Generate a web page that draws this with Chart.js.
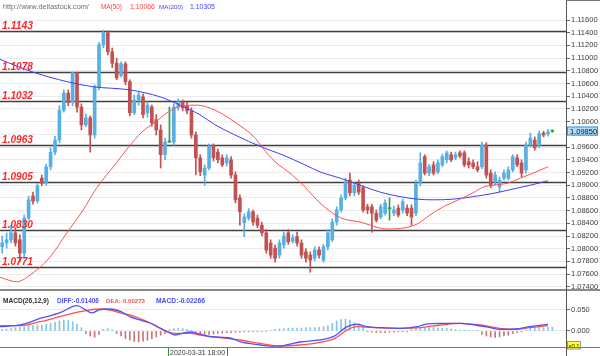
<!DOCTYPE html>
<html><head><meta charset="utf-8">
<script src="https://cdn.jsdelivr.net/npm/chart.js@4.4.0/dist/chart.umd.min.js"></script>
<style>
html,body{margin:0;padding:0;background:#fff;width:600px;height:356px;overflow:hidden;}
#main{position:absolute;left:0;top:0;width:600px;height:289px;}
#macd{position:absolute;left:0;top:291px;width:600px;height:65px;}
.ln{position:absolute;}
</style></head><body>
<div id="main"><canvas id="c1" width="600" height="289"></canvas></div>
<div id="macd"><canvas id="c2" width="600" height="65"></canvas></div>
<div class="ln" style="left:0;top:289px;width:600px;height:2px;background:#8a8a8a"></div>
<div class="ln" style="left:0;top:347px;width:600px;height:1px;background:#7a7a7a"></div>
<div class="ln" style="left:566px;top:289px;width:1px;height:67px;background:#555"></div>
<div class="ln" style="left:566px;top:0;width:34px;height:1px;background:#777"></div>
<script>
// ---------- DATA ----------
const priceTicks = [1.074,1.076,1.078,1.080,1.082,1.084,1.086,1.088,1.090,1.092,1.094,1.096,1.098,1.100,1.102,1.104,1.106,1.108,1.110,1.112,1.114,1.116];
const macdTicks = [0, 0.05];
const levels = [1.1143,1.1078,1.1032,1.0963,1.0905,1.0830,1.0771];

const opens = [1.0803,1.0809,1.0814,1.0825,1.0814,1.0793,1.0848,1.0883,1.0875,1.0911,
1.0903,1.0929,1.0952,1.0971,1.1018,1.1045,1.1030,1.1077,1.1023,1.0995,
1.1006,1.0979,1.1055,1.1121,1.1140,1.1110,1.1092,1.1073,1.1091,1.1063,
1.1014,1.1034,1.1039,1.1014,1.1023,1.1003,1.0987,1.0948,1.0968,1.0968,
1.1023,1.1031,1.1025,1.1017,1.0979,1.0943,1.0916,1.0927,1.0962,1.0952,
1.0943,1.0935,1.0940,1.0916,1.0880,1.0841,1.0848,1.0858,1.0848,1.0837,
1.0825,1.0809,1.0801,1.0790,1.0806,1.0825,1.0812,1.0819,1.0809,1.0795,
1.0790,1.0785,1.0798,1.0782,1.0803,1.0814,1.0842,1.0861,1.0880,1.0908,
1.0888,1.0903,1.0896,1.0866,1.0866,1.0856,1.0850,1.0856,1.0863,1.0856,
1.0864,1.0861,1.0864,1.0864,1.0856,1.0903,1.0945,1.0919,1.0932,1.0921,
1.0932,1.0940,1.0948,1.0943,1.0951,1.0951,1.0937,1.0935,1.0929,1.0929,
1.0963,1.0919,1.0905,1.0897,1.0911,1.0911,1.0924,1.0943,1.0935,1.0924,
1.0963,1.0971,1.0963,1.0982,1.0981,1.0985];
const highs = [1.0820,1.0825,1.0837,1.0833,1.0822,1.0853,1.0883,1.0889,1.0903,1.0916,
1.0933,1.0959,1.0977,1.1025,1.1050,1.1050,1.1078,1.1078,1.1028,1.1012,
1.1009,1.1058,1.1125,1.1144,1.1143,1.1116,1.1100,1.1094,1.1094,1.1066,
1.1042,1.1047,1.1044,1.1031,1.1026,1.1011,1.0995,1.0974,1.1023,1.1028,
1.1036,1.1034,1.1031,1.1022,1.0984,1.0948,1.0932,1.0965,1.0965,1.0957,
1.0948,1.0948,1.0945,1.0921,1.0885,1.0855,1.0863,1.0861,1.0853,1.0842,
1.0830,1.0814,1.0806,1.0814,1.0826,1.0830,1.0822,1.0826,1.0814,1.0800,
1.0795,1.0803,1.0803,1.0807,1.0830,1.0847,1.0866,1.0885,1.0911,1.0919,
1.0905,1.0908,1.0899,1.0870,1.0870,1.0861,1.0870,1.0877,1.0880,1.0867,
1.0869,1.0878,1.0869,1.0869,1.0908,1.0951,1.0948,1.0933,1.0937,1.0940,
1.0949,1.0954,1.0952,1.0952,1.0954,1.0954,1.0943,1.0940,1.0937,1.0968,
1.0967,1.0924,1.0921,1.0913,1.0924,1.0929,1.0948,1.0948,1.0940,1.0968,
1.0982,1.0976,1.0985,1.0985,1.0988,1.0987];
const lows = [1.0793,1.0801,1.0809,1.0804,1.0779,1.0785,1.0845,1.0870,1.0872,1.0899,
1.0900,1.0924,1.0948,1.0967,1.1015,1.1025,1.1025,1.1015,1.0987,1.0992,
1.0952,1.0974,1.1050,1.1116,1.1105,1.1085,1.1066,1.1070,1.1058,1.1009,
1.1011,1.1026,1.1006,1.1007,1.0993,1.0979,1.0927,1.0940,1.0967,1.0963,
1.1018,1.1017,1.1012,1.0974,1.0916,1.0915,1.0900,1.0924,1.0938,1.0935,
1.0929,1.0930,1.0911,1.0872,1.0837,1.0819,1.0845,1.0837,1.0833,1.0820,
1.0793,1.0785,1.0779,1.0785,1.0801,1.0807,1.0809,1.0804,1.0785,1.0779,
1.0763,1.0781,1.0785,1.0779,1.0798,1.0811,1.0837,1.0858,1.0877,1.0883,
1.0883,1.0885,1.0858,1.0855,1.0826,1.0842,1.0847,1.0853,1.0845,1.0852,
1.0850,1.0856,1.0852,1.0837,1.0852,1.0899,1.0916,1.0915,1.0916,1.0918,
1.0929,1.0935,1.0937,1.0940,1.0943,1.0929,1.0927,1.0926,1.0921,1.0926,
1.0911,1.0896,1.0900,1.0889,1.0908,1.0908,1.0921,1.0929,1.0913,1.0919,
1.0960,1.0955,1.0959,1.0976,1.0977,1.0983];
const closes = [1.0809,1.0814,1.0825,1.0809,1.0793,1.0848,1.0877,1.0875,1.0899,1.0903,
1.0929,1.0952,1.0971,1.1018,1.1045,1.1030,1.1077,1.1023,1.0995,1.1006,
1.0979,1.1055,1.1121,1.1140,1.1110,1.1092,1.1069,1.1091,1.1063,1.1014,
1.1034,1.1042,1.1011,1.1026,1.0998,1.0987,1.0948,1.0968,1.0968,1.1023,
1.1031,1.1022,1.1017,1.0979,1.0943,1.0921,1.0927,1.0962,1.0943,1.0940,
1.0932,1.0943,1.0916,1.0877,1.0858,1.0850,1.0858,1.0842,1.0837,1.0825,
1.0798,1.0790,1.0785,1.0809,1.0820,1.0811,1.0817,1.0809,1.0790,1.0785,
1.0782,1.0798,1.0790,1.0803,1.0825,1.0842,1.0861,1.0880,1.0905,1.0888,
1.0900,1.0889,1.0861,1.0861,1.0856,1.0845,1.0866,1.0872,1.0863,1.0861,
1.0853,1.0874,1.0856,1.0850,1.0903,1.0935,1.0919,1.0929,1.0919,1.0935,
1.0945,1.0951,1.0940,1.0948,1.0946,1.0932,1.0932,1.0929,1.0924,1.0963,
1.0916,1.0900,1.0916,1.0908,1.0919,1.0924,1.0945,1.0932,1.0919,1.0963,
1.0974,1.0959,1.0981,1.0979,1.0984,1.0985];

// moving averages: [candle index, value]
const ma50 = [[-0.5,1.0755],[3.3,1.0748],[7,1.0762],[10.9,1.0787],[14.7,1.0825],[18.4,1.0861],[21.5,1.0896],[25.6,1.0932],[28.6,1.0959],[31.8,1.0984],[34.7,1.0999],[37.7,1.1015],[40.9,1.1025],[44.3,1.1026],[48.4,1.1018],[52.9,1.0999],[57.5,1.0974],[59,1.0960],[62,1.0937],[65.9,1.0916],[68.8,1.0897],[72.2,1.0872],[76.8,1.0849],[81.3,1.0842],[87.5,1.0831],[91.5,1.0833],[94.3,1.0839],[97.2,1.0853],[100.2,1.0866],[104,1.0878],[107,1.0888],[109.3,1.0897],[111.5,1.0900],[114.7,1.0903],[117.7,1.0911],[120.6,1.0919],[124,1.0929]];
const ma200 = [[-0.5,1.1098],[7,1.1078],[14.7,1.1063],[20.6,1.1055],[29,1.1050],[35.9,1.1039],[40.4,1.1026],[44.9,1.1011],[48.4,1.0995],[52.9,1.0979],[59,1.0960],[63.6,1.0948],[68.8,1.0932],[72.2,1.0921],[76.8,1.0911],[81.3,1.0900],[85.9,1.0889],[90.4,1.0882],[94.3,1.0878],[97.9,1.0877],[102.5,1.0878],[107,1.0882],[111.5,1.0887],[116.1,1.0894],[120.6,1.0901],[124,1.0907]];

// MACD: [candle index, value]
const diffLine = [[-0.5,0.0102],[4,0.0143],[9,0.0310],[13,0.0429],[17,0.0602],[19,0.0500],[20.4,0.0429],[22,0.0500],[24.5,0.0524],[27,0.0460],[29,0.0340],[31.3,0.0262],[33.6,0.0190],[35.9,0.0071],[38.1,-0.0048],[39.3,-0.0095],[40.4,-0.0071],[42.7,-0.0024],[44.9,-0.0071],[47.2,-0.0136],[51.8,-0.0167],[54,-0.0255],[58.6,-0.0333],[60.9,-0.0360],[63.1,-0.0360],[65.4,-0.0310],[67.7,-0.0262],[72.2,-0.0214],[75.2,-0.0136],[78.4,0.0102],[80.6,0.0160],[82.9,0.0102],[85.9,0.0079],[90.4,0.0064],[94.3,0.0102],[96.1,0.0160],[99.5,0.0183],[104,0.0183],[107.5,0.0143],[110.9,0.0079],[113.1,0.0040],[116.5,0.0048],[119.9,0.0102],[124,0.0160]];
const deaLine = [[-0.5,0.0126],[4,0.0126],[8.6,0.0221],[13.1,0.0340],[17.7,0.0460],[22.2,0.0524],[24.5,0.0500],[26.8,0.0429],[29,0.0381],[33.6,0.0190],[37.5,-0.0017],[39.3,-0.0055],[42.7,-0.0055],[44.9,-0.0095],[49.5,-0.0160],[54,-0.0214],[58.6,-0.0293],[63.1,-0.0357],[67.7,-0.0333],[72.2,-0.0269],[75.6,-0.0174],[78.4,0.0024],[80.6,0.0102],[84.4,0.0079],[90.4,0.0064],[95,0.0079],[99.5,0.0143],[104,0.0183],[108.6,0.0143],[113.1,0.0064],[116.5,0.0040],[119.9,0.0079],[124,0.0126]];
const macdHist = [0.004,0.005,0.006,0.008,0.009,0.010,0.012,0.013,0.014,0.014,
0.016,0.018,0.021,0.024,0.026,0.025,0.022,0.016,0.008,-0.006,
-0.012,-0.015,-0.008,0.004,0.006,0.003,-0.006,-0.012,-0.018,-0.022,
-0.025,-0.026,-0.024,-0.022,-0.018,-0.014,-0.010,-0.006,0.004,0.006,
0.007,0.006,0.004,0.002,-0.003,-0.006,-0.008,-0.008,-0.007,-0.006,
-0.005,-0.004,-0.004,-0.003,-0.003,-0.002,-0.002,-0.002,-0.002,-0.001,
-0.001,0.002,0.004,0.005,0.006,0.007,0.007,0.007,0.007,0.008,
0.008,0.008,0.009,0.010,0.012,0.018,0.024,0.027,0.028,0.026,
0.020,0.016,0.010,-0.002,-0.003,-0.004,-0.004,-0.004,-0.003,-0.003,
-0.002,-0.002,-0.002,0.004,0.006,0.007,0.008,0.008,0.008,0.007,
0.007,0.006,0.005,0.003,0.002,0.002,0.001,0.001,0.001,-0.008,
-0.012,-0.014,-0.015,-0.014,-0.012,-0.010,-0.006,-0.004,-0.002,0.002,
0.006,0.007,0.008,0.008,0.009,0.009];

const siteText = 'http://www.deltastock.com/';
const ma50Label = 'MA(50)', ma50Value = '1.10066';
const ma200Label = 'MA(200)', ma200Value = '1.10305';
const macdTitle = 'MACD(26,12,9)';
const diffText = 'DIFF:-0.01406', deaText = 'DEA:-0.00273', macdText = 'MACD:-0.02266';
const cursorLabel = '2020-03-31 18:00';
const cursorIndex = 44.4;
const scaleNote = 'x0.1';

// ---------- STYLE ----------
const UP = '#56b0e4', DOWN = '#c25151', DOJI = '#2f9e3f';
const FONT = '"Liberation Sans", Arial, sans-serif';
const X_MIN = -0.5, X_MAX = 128.1;

const idx = closes.map((_, i) => i);
const candleColor = idx.map(i => closes[i] > opens[i] ? UP : (closes[i] < opens[i] ? DOWN : DOJI));

function fitText(ctx, text, x, y, w, weight, color) {
  ctx.font = weight + ' 20px ' + FONT;
  const m = ctx.measureText(text).width;
  const size = 20 * w / m;
  ctx.font = weight + ' ' + size.toFixed(2) + 'px ' + FONT;
  ctx.fillStyle = color;
  ctx.textAlign = 'left';
  ctx.textBaseline = 'alphabetic';
  ctx.fillText(text, x, y);
}

const yAxisCommon = (ticksArr, decimals) => ({
  position: 'right',
  afterFit: s => { s.width = 34; s.paddingTop = 0; s.paddingBottom = 0; },
  afterBuildTicks: s => { s.ticks = ticksArr.map(v => ({ value: v })); },
  ticks: { callback: v => Number(v).toFixed(decimals), font: { size: 7.5, family: FONT }, color: '#3a3a3a', padding: 1, autoSkip: false },
  grid: { color: '#ececec', tickColor: '#666', tickLength: 4, drawTicks: true },
  border: { display: true, color: '#555', width: 1 }
});

const mainOverlay = {
  id: 'mainOverlay',
  beforeDatasetsDraw(chart) {
    const { ctx, chartArea, scales } = chart;
    ctx.save();
    ctx.strokeStyle = '#404040';
    ctx.lineWidth = 1.4;
    levels.forEach(v => {
      const y = Math.round(scales.y.getPixelForValue(v)) + 0.5;
      ctx.beginPath(); ctx.moveTo(chartArea.left, y); ctx.lineTo(chartArea.right, y); ctx.stroke();
    });
    ctx.restore();
  },
  afterDraw(chart) {
    const { ctx, chartArea, scales } = chart;
    ctx.save();
    // level labels
    levels.forEach(v => {
      const y = Math.round(scales.y.getPixelForValue(v));
      fitText(ctx, v.toFixed(4), 2, y - 2, 31, 'italic bold', '#ff2626');
    });
    // top legend
    fitText(ctx, siteText, 3, 9, 86, 'normal', '#6e6e6e');
    fitText(ctx, ma50Label, 101, 9, 21, 'normal', '#ff4040');
    fitText(ctx, ma50Value, 130, 9, 25, 'normal', '#ff4040');
    fitText(ctx, ma200Label, 159, 9, 24, 'normal', '#4040ff');
    fitText(ctx, ma200Value, 190, 9, 25, 'normal', '#4040ff');
    // current price box
    const last = closes[closes.length - 1];
    const py = scales.y.getPixelForValue(last);
    ctx.fillStyle = '#b2dbf7';
    ctx.strokeStyle = '#3b95dc';
    ctx.lineWidth = 1;
    ctx.fillRect(chartArea.right + 1, Math.round(py) - 4.5, 31, 9);
    ctx.strokeRect(chartArea.right + 1.5, Math.round(py) - 4, 30, 8);
    ctx.fillStyle = '#111';
    ctx.font = '7.5px ' + FONT;
    ctx.textBaseline = 'middle';
    ctx.textAlign = 'left';
    ctx.fillText(last.toFixed(5), chartArea.right + 4, Math.round(py) + 0.5);
    ctx.restore();
  }
};

new Chart(document.getElementById('c1'), {
  type: 'bar',
  data: {
    datasets: [
      { type: 'line', data: ma50.map(p => ({ x: p[0], y: p[1] })), borderColor: '#ff5252', borderWidth: 1, pointRadius: 0, cubicInterpolationMode: 'monotone', order: 0 },
      { type: 'line', data: ma200.map(p => ({ x: p[0], y: p[1] })), borderColor: '#3f3ff2', borderWidth: 1, pointRadius: 0, cubicInterpolationMode: 'monotone', order: 0 },
      { data: idx.map(i => ({ x: i, y: [opens[i], closes[i]] })), backgroundColor: candleColor, barThickness: 3, grouped: false, minBarLength: 1, order: 1 },
      { data: idx.map(i => ({ x: i, y: [lows[i], highs[i]] })), backgroundColor: candleColor, barThickness: 1, grouped: false, order: 2 }
    ]
  },
  options: {
    responsive: false, animation: false, events: [],
    layout: { padding: 0, autoPadding: false },
    plugins: { legend: { display: false }, tooltip: { enabled: false } },
    scales: {
      x: { type: 'linear', min: X_MIN, max: X_MAX, display: false, offset: false },
      y: Object.assign(yAxisCommon(priceTicks, 5), { min: 1.07366, max: 1.11915 })
    }
  },
  plugins: [mainOverlay]
});

const macdOverlay = {
  id: 'macdOverlay',
  afterDraw(chart) {
    const { ctx, chartArea, scales } = chart;
    ctx.save();
    fitText(ctx, macdTitle, 3, 12, 46, 'bold', '#333');
    fitText(ctx, diffText, 57, 12, 42, 'bold', '#4a4aff');
    fitText(ctx, deaText, 106, 12, 39, 'bold', '#ff4a4a');
    fitText(ctx, macdText, 156, 12, 49, 'bold', '#4a4aff');
    // cursor date box
    const cx = scales.x.getPixelForValue(cursorIndex);
    ctx.fillStyle = '#fbfbfb';
    ctx.fillRect(Math.round(cx - 30), chartArea.bottom, 60, 9);
    ctx.strokeStyle = '#3c8c3c';
    ctx.lineWidth = 1;
    ctx.strokeRect(Math.round(cx - 30) + 0.5, chartArea.bottom + 0.5, 59, 10);
    fitText(ctx, cursorLabel, Math.round(cx - 28), chartArea.bottom + 8, 55, 'normal', '#444');
    // scale note box
    ctx.fillStyle = '#ffff2e';
    ctx.fillRect(chartArea.right + 1, chartArea.bottom - 6, 14, 8.5);
    ctx.strokeStyle = '#999';
    ctx.strokeRect(chartArea.right + 1.5, chartArea.bottom - 5.5, 13, 7.5);
    fitText(ctx, scaleNote, chartArea.right + 2.5, chartArea.bottom + 1, 11, 'normal', '#111');
    ctx.restore();
  }
};

new Chart(document.getElementById('c2'), {
  type: 'bar',
  data: {
    datasets: [
      { type: 'line', data: diffLine.map(p => ({ x: p[0], y: p[1] })), borderColor: '#4f4fff', borderWidth: 1.3, pointRadius: 0, cubicInterpolationMode: 'monotone', order: 0 },
      { type: 'line', data: deaLine.map(p => ({ x: p[0], y: p[1] })), borderColor: '#ff5050', borderWidth: 1.3, pointRadius: 0, cubicInterpolationMode: 'monotone', order: 0 },
      { data: idx.map(i => ({ x: i, y: macdHist[i] })), backgroundColor: macdHist.map(v => v >= 0 ? '#84c5ea' : '#c87676'), barThickness: 1, grouped: false, order: 1 }
    ]
  },
  options: {
    responsive: false, animation: false, events: [],
    layout: { padding: { top: 0, left: 0, right: 0, bottom: 9 }, autoPadding: false },
    plugins: { legend: { display: false }, tooltip: { enabled: false } },
    scales: {
      x: { type: 'linear', min: X_MIN, max: X_MAX, display: false, offset: false },
      y: Object.assign(yAxisCommon(macdTicks, 3), { min: -0.0381, max: 0.0952 })
    }
  },
  plugins: [macdOverlay]
});
</script>
</body></html>
